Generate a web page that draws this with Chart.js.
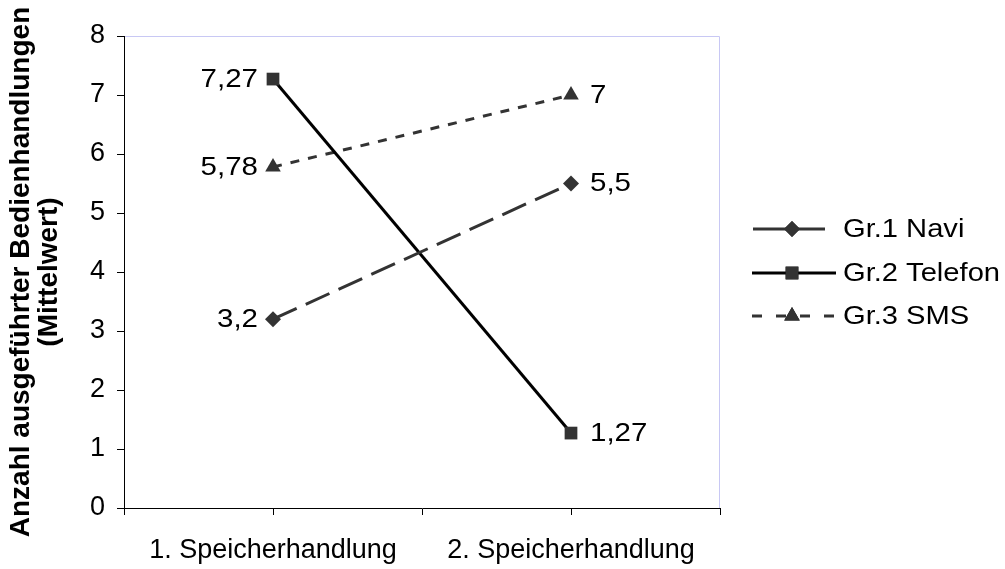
<!DOCTYPE html>
<html lang="de">
<head>
<meta charset="utf-8">
<title>Bedienhandlungen</title>
<script src="https://cdn.jsdelivr.net/npm/chart.js@4/dist/chart.umd.min.js"></script>
<style>
  html, body { margin: 0; padding: 0; background: #fff; }
  canvas { display: block; }
</style>
</head>
<body>
<canvas id="chart" width="1005" height="569"></canvas>
<script>
// Categories on the x axis
const categories = ['1. Speicherhandlung', '2. Speicherhandlung'];
// Group names
const seriesNames = ['Gr.1 Navi', 'Gr.2 Telefon', 'Gr.3 SMS'];
// Mean number of operations per group
const naviValues = [3.2, 5.5];
const telefonValues = [7.27, 1.27];
const smsValues = [5.78, 7];
// Value axis
const yMin = 0;
const yMax = 8;
const yStep = 1;
const yTitle = ['Anzahl ausgeführter Bedienhandlungen', '(Mittelwert)'];

const FONT = '"Liberation Sans", Arial, Helvetica, sans-serif';

const toPoints = vals => vals.map((v, i) => ({ x: i + 1, y: v }));
const fmt = v => String(v).replace('.', ',');

// Draw text slightly widened horizontally
function wideText(ctx, text, x, y, align, sx) {
  const w = ctx.measureText(text).width * sx;
  const left = align === 'right' ? x - w : x;
  ctx.save();
  ctx.translate(left, y);
  ctx.scale(sx, 1);
  ctx.textAlign = 'left';
  ctx.fillText(text, 0, 0);
  ctx.restore();
}

// Thin frame on the top and right of the plot area
const frame = {
  id: 'frame',
  beforeDraw(chart) {
    const a = chart.chartArea, ctx = chart.ctx;
    ctx.save();
    ctx.strokeStyle = '#c8c8f4';
    ctx.lineWidth = 1;
    ctx.beginPath();
    ctx.moveTo(Math.round(a.left) + 0.5, Math.round(a.top) + 0.5);
    ctx.lineTo(Math.round(a.right) - 0.5, Math.round(a.top) + 0.5);
    ctx.lineTo(Math.round(a.right) - 0.5, Math.round(a.bottom));
    ctx.stroke();
    ctx.restore();
  }
};

// Value labels next to each marker
const valueLabels = {
  id: 'valueLabels',
  afterDatasetsDraw(chart) {
    const ctx = chart.ctx;
    ctx.save();
    ctx.font = '25px ' + FONT;
    ctx.fillStyle = '#000';
    ctx.textBaseline = 'middle';
    chart.data.datasets.forEach((ds, di) => {
      const meta = chart.getDatasetMeta(di);
      meta.data.forEach((pt, j) => {
        const v = ds.data[j].y;
        if (j === 0) {
          wideText(ctx, fmt(v), pt.x - 15, pt.y + 1, 'right', 1.18);
        } else {
          wideText(ctx, fmt(v), pt.x + 19, pt.y + 1, 'left', 1.18);
        }
      });
    });
    ctx.restore();
  }
};

// Legend drawn with each dataset's own line and marker style
const sideLegend = {
  id: 'sideLegend',
  afterDraw(chart) {
    const ctx = chart.ctx;
    const x0 = chart.chartArea.right + 32;
    const rows = [229, 273, 316];
    const dashes = [[], [], [10, 14]];
    const spans = [[1, 73], [0, 84], [0, 82]];
    ctx.save();
    chart.data.datasets.forEach((ds, i) => {
      const y = rows[i];
      ctx.strokeStyle = ds.borderColor;
      ctx.lineWidth = ds.borderWidth;
      ctx.setLineDash(dashes[i]);
      ctx.beginPath();
      ctx.moveTo(x0 + spans[i][0], y);
      ctx.lineTo(x0 + spans[i][1], y);
      ctx.stroke();
      ctx.setLineDash([]);
      Chart.helpers.drawPoint(ctx, {
        pointStyle: ds.pointStyle,
        radius: ds.pointRadius,
        rotation: 0,
        borderWidth: 0
      }, x0 + 40, y);
      ctx.fillStyle = ds.pointBackgroundColor;
      ctx.fill();
      ctx.font = '26px ' + FONT;
      ctx.fillStyle = '#000';
      ctx.textBaseline = 'middle';
      wideText(ctx, seriesNames[i], x0 + 91, y + 1, 'left', 1.12);
    });
    ctx.restore();
  }
};

new Chart(document.getElementById('chart'), {
  type: 'line',
  data: {
    datasets: [
      {
        label: seriesNames[0],
        data: toPoints(naviValues),
        borderColor: '#333333',
        borderWidth: 3,
        borderDash: [26, 10],
        pointStyle: 'rectRot',
        pointRadius: 8,
        pointBackgroundColor: '#333333',
        pointBorderWidth: 0
      },
      {
        label: seriesNames[1],
        data: toPoints(telefonValues),
        borderColor: '#000000',
        borderWidth: 3,
        borderDash: [],
        pointStyle: 'rect',
        pointRadius: 9,
        pointBackgroundColor: '#333333',
        pointBorderWidth: 0
      },
      {
        label: seriesNames[2],
        data: toPoints(smsValues),
        borderColor: '#333333',
        borderWidth: 3,
        borderDash: [9, 9],
        pointStyle: 'triangle',
        pointRadius: 9,
        pointBackgroundColor: '#333333',
        pointBorderWidth: 0
      }
    ]
  },
  options: {
    responsive: false,
    devicePixelRatio: 1,
    animation: false,
    clip: false,
    layout: { padding: { top: 36, right: 285, bottom: 0, left: 0 } },
    plugins: {
      legend: { display: false },
      tooltip: { enabled: false }
    },
    scales: {
      x: {
        type: 'linear',
        min: 0.5,
        max: 2.5,
        afterFit(scale) { scale.height = 61; },
        afterBuildTicks(scale) {
          scale.ticks = [0.5, 1, 1.5, 2, 2.5].map(v => ({ value: v }));
        },
        ticks: {
          autoSkip: false,
          maxRotation: 0,
          padding: 19,
          color: '#000',
          font: { family: FONT, size: 27 },
          callback: v => (Number.isInteger(v) ? categories[v - 1] : '')
        },
        grid: {
          display: true,
          drawOnChartArea: false,
          drawTicks: true,
          tickLength: 7,
          color: '#000',
          lineWidth: 1
        },
        border: { display: true, color: '#000', width: 1 }
      },
      y: {
        min: yMin,
        max: yMax,
        afterFit(scale) { scale.width = 124; },
        ticks: {
          stepSize: yStep,
          padding: 12,
          color: '#000',
          font: { family: FONT, size: 27 }
        },
        grid: {
          display: true,
          drawOnChartArea: false,
          drawTicks: true,
          tickLength: 7,
          color: '#000',
          lineWidth: 1
        },
        border: { display: true, color: '#000', width: 1 },
        title: {
          display: true,
          text: yTitle,
          color: '#000',
          font: { family: FONT, size: 28, weight: 'bold', lineHeight: 1.0 },
          padding: { top: 7, bottom: 0 }
        }
      }
    }
  },
  plugins: [frame, valueLabels, sideLegend]
});
</script>
</body>
</html>
